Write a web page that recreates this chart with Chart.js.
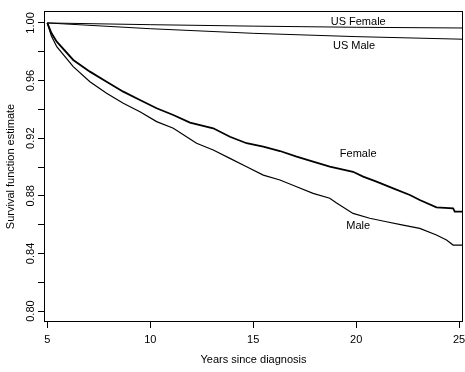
<!DOCTYPE html>
<html>
<head>
<meta charset="utf-8">
<script src="https://cdn.jsdelivr.net/npm/chart.js@4/dist/chart.umd.min.js"></script>
<style>
  html, body { margin: 0; padding: 0; background: #fff; }
  #wrap { width: 465px; height: 372px; }
</style>
</head>
<body>
<div id="wrap"><canvas id="myChart" width="465" height="372"></canvas></div>
<script>
// survival curves (years since diagnosis, estimate)
const femaleYears = [5, 5.2, 5.46, 6.26, 7.07, 7.88, 8.69, 9.5, 10.31, 11.12, 11.93, 13.06, 13.87, 14.68, 15.49, 16.3, 17.11, 17.91, 18.72, 19.85, 20.34, 20.99, 21.8, 22.61, 23.09, 23.9, 24.71, 24.79, 25.19];
const femaleSurv = [1, 0.993, 0.987, 0.9743, 0.9662, 0.9592, 0.9523, 0.9465, 0.9408, 0.9361, 0.9308, 0.9269, 0.921, 0.9165, 0.9141, 0.9111, 0.9072, 0.9037, 0.9002, 0.8967, 0.8933, 0.8898, 0.8852, 0.8806, 0.8771, 0.872, 0.8713, 0.869, 0.869];

const maleYears = [5, 5.2, 5.46, 6.26, 7.07, 7.88, 8.69, 9.5, 10.31, 11.12, 11.93, 12.25, 13.06, 13.87, 14.68, 15.49, 16.3, 17.11, 17.91, 18.72, 19.05, 19.85, 20.66, 21.47, 22.28, 23.09, 23.9, 24.39, 24.71, 25.19];
const maleSurv = [1, 0.991, 0.9835, 0.9697, 0.9592, 0.9512, 0.9442, 0.9384, 0.9315, 0.9269, 0.9194, 0.9165, 0.9118, 0.906, 0.9002, 0.8944, 0.891, 0.8863, 0.8817, 0.8783, 0.875, 0.8678, 0.8644, 0.862, 0.8597, 0.8574, 0.8528, 0.8493, 0.8458, 0.8458];

const usYears = [5, 10, 15, 20, 25.19];
const usFemaleSurv = [1, 0.9988, 0.9978, 0.997, 0.9965];
const usMaleSurv = [1, 0.996, 0.9928, 0.9905, 0.9887];

const xTicks = [5, 10, 15, 20, 25];
const yLabels = [0.8, 0.84, 0.88, 0.92, 0.96, 1.0];

const FONT = "'Liberation Sans', Arial, sans-serif";

const toPoints = (xs, ys) => xs.map((x, i) => ({ x: x, y: ys[i] }));

const line = (label, xs, ys, width) => ({
	label: label,
	data: toPoints(xs, ys),
	borderColor: "#000",
	borderWidth: width,
	pointRadius: 0,
	tension: 0,
	fill: false,
});

// box round the plot, rotated y labels, curve names
const decor = {
	id: "decor",
	afterDraw(chart) {
		const { ctx, chartArea: a, scales } = chart;
		ctx.save();
		ctx.strokeStyle = "#000";
		ctx.lineWidth = 1;
		ctx.strokeRect(a.left + 0.5, a.top + 0.5, a.right - a.left - 1, a.bottom - a.top - 1);

		ctx.fillStyle = "#000";
		ctx.font = "11px " + FONT;
		ctx.textAlign = "center";
		ctx.textBaseline = "middle";
		yLabels.forEach((v) => {
			const py = scales.y.getPixelForValue(v);
			ctx.save();
			ctx.translate(31, py);
			ctx.rotate(-Math.PI / 2);
			ctx.fillText(v.toFixed(2), 0, 0);
			ctx.restore();
		});

		const names = [
			["US Female", 20.1, 1.0007],
			["US Male", 19.9, 0.9838],
			["Female", 20.1, 0.909],
			["Male", 20.1, 0.859],
		];
		names.forEach(([t, x, y]) => {
			ctx.fillText(t, scales.x.getPixelForValue(x), scales.y.getPixelForValue(y));
		});
		ctx.restore();
	},
};

new Chart(document.getElementById("myChart"), {
	type: "line",
	data: {
		datasets: [
			line("US Female", usYears, usFemaleSurv, 1),
			line("US Male", usYears, usMaleSurv, 1),
			line("Female", femaleYears, femaleSurv, 1.8),
			line("Male", maleYears, maleSurv, 1.2),
		],
	},
	options: {
		responsive: false,
		animation: false,
		devicePixelRatio: 1,
		layout: { padding: { top: 11, right: 2, left: 0, bottom: 0 } },
		plugins: {
			legend: { display: false },
			tooltip: { enabled: false },
		},
		scales: {
			x: {
				type: "linear",
				min: 4.84,
				max: 25.19,
				afterFit: (s) => {
					s.height = 50;
					s.paddingLeft = 0;
					s.paddingRight = 0;
				},
				afterBuildTicks: (s) => { s.ticks = xTicks.map((v) => ({ value: v })); },
				ticks: {
					color: "#000",
					font: { size: 11, family: FONT },
					padding: 5,
					maxRotation: 0,
					callback: (v) => String(v),
				},
				grid: { drawOnChartArea: false, color: "#000", tickLength: 6 },
				border: { display: false },
				title: {
					display: true,
					text: "Years since diagnosis",
					color: "#000",
					font: { size: 11, family: FONT },
					padding: { top: 0, bottom: 5 },
				},
			},
			y: {
				type: "linear",
				min: 0.7924,
				max: 1.0083,
				afterFit: (s) => {
					s.width = 44;
					s.paddingTop = 0;
					s.paddingBottom = 0;
				},
				ticks: {
					display: false,
					stepSize: 0.02,
					includeBounds: false,
				},
				grid: { drawOnChartArea: false, color: "#000", tickLength: 6 },
				border: { display: false },
				title: {
					display: true,
					text: "Survival function estimate",
					color: "#000",
					font: { size: 11, family: FONT },
					padding: { top: 4, bottom: 0 },
				},
			},
		},
	},
	plugins: [decor],
});
</script>
</body>
</html>
